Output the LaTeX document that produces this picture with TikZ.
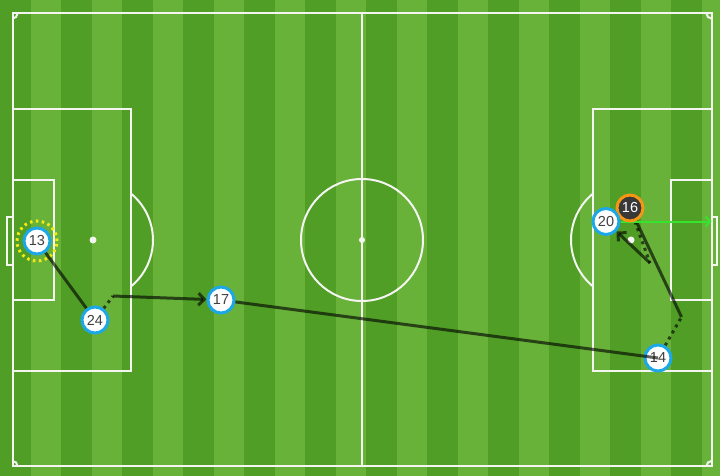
\documentclass[tikz,border=0pt]{standalone}
\usepackage{fontspec}
\setmainfont{Liberation Sans}
\usetikzlibrary{arrows.meta}
\definecolor{dkgreen}{RGB}{80,158,38}
\definecolor{ltgreen}{RGB}{104,178,58}
\definecolor{ringblue}{RGB}{28,168,230}
\definecolor{ringorange}{RGB}{245,150,20}
\definecolor{shotgreen}{RGB}{55,228,45}
\definecolor{ballyellow}{RGB}{245,235,20}
\definecolor{chalk}{RGB}{244,244,240}
\pgfdeclarelayer{pitchlayer}
\pgfdeclarelayer{lineslayer}
\pgfsetlayers{pitchlayer,lineslayer,main}
\tikzset{
  marking/.style={draw=chalk, line width=2pt},
  spot/.style={fill=chalk},
  player/.style={circle, draw=ringblue, fill=white, line width=3pt, minimum size=26pt,
    inner sep=0pt, text=black!75, font=\fontsize{14.5}{14.5}\selectfont},
  scorer/.style={player, draw=ringorange, fill=black!78, text=white},
  pass/.style={line width=3pt, draw=black, draw opacity=0.62},
  carry/.style={pass, dash pattern=on 3pt off 4pt},
  tip/.style={-{Straight Barb[length=6pt,width=12pt]}},
  shot/.style={line width=2pt, draw=shotgreen, -{Straight Barb[length=4.5pt,width=10pt]}},
  ballring/.style={circle, draw=ballyellow, line width=3pt, dash pattern=on 2.5pt off 3.5pt,
    minimum size=40pt, inner sep=0pt},
}
\begin{document}
\begin{tikzpicture}[x=1pt,y=-1pt]
\useasboundingbox (0,0) rectangle (720,476);
\begin{pgfonlayer}{pitchlayer}
  \fill[ltgreen] (0,0) rectangle (720,476);
  \foreach \k in {0,...,11}
    \fill[dkgreen] ({61*\k},0) rectangle ({61*\k+30.5},476);
  % outer lines
  \draw[marking] (12.5,13.5) rectangle (711.5,466);
  \draw[marking] (362,13.5) -- (362,466);
  \draw[marking] (362,240) circle[radius=61];
  \fill[spot] (362,240) circle[radius=3];
  % left end
  \draw[marking] (12.5,109) rectangle (130.5,371);
  \draw[marking] (12.5,180) rectangle (53.5,300);
  \draw[marking] (12.5,216.5) rectangle (7,265);
  \fill[spot] (93,240) circle[radius=3.5];
  \draw[marking] (130.5,193.2) arc[start angle=-51.3, end angle=51.3, radius=60];
  % right end
  \draw[marking] (592.5,109) rectangle (711.5,371);
  \draw[marking] (671,180) rectangle (711.5,300);
  \draw[marking] (711.5,216.5) rectangle (717,265);
  \fill[spot] (631,240) circle[radius=3.5];
  \draw[marking] (593.5,286.8) arc[start angle=128.7, end angle=231.3, radius=60];
  % corner arcs
  \draw[marking] (17.5,13.5) .. controls (17.5,16.26) and (15.26,18.5) .. (12.5,18.5);
  \draw[marking] (12.5,461) .. controls (15.26,461) and (17.5,463.24) .. (17.5,466);
  \draw[marking] (706.5,13.5) .. controls (706.5,16.26) and (708.74,18.5) .. (711.5,18.5);
  \draw[marking] (706.5,466) .. controls (706.5,463.24) and (708.74,461) .. (711.5,461);
\end{pgfonlayer}

% players
\node[player] (p13) at (37,241) {13};
\node[player] (p24) at (95,320) {24};
\node[player] (p17) at (221,300) {17};
\node[scorer] (p16) at (630,208) {16};
\node[player] (p20) at (606,221.5) {20};
\node[player] (p14) at (658,358) {14};

% free ends
\coordinate (c24) at (113,296);
\coordinate (c14) at (681.5,317);
\coordinate (c16) at (650,263);
\coordinate (goal) at (711.5,221.5);

\begin{pgfonlayer}{lineslayer}
  \node[ballring] (ball13) at (p13) {};
  \draw[pass] (p13) -- (p24);
  \draw[carry] (p24) -- (c24);
  \draw[pass, tip] (c24) -- (p17);
  \draw[carry] (p14) -- (c14);
  \draw[pass] (c14) -- (p16);
  \draw[carry] (p16) -- (c16);
  \draw[pass, tip] (c16) -- (p20);
  \draw[shot] (p20.east) -- (goal);
\end{pgfonlayer}
\draw[pass] (p17) -- (p14.center);
\end{tikzpicture}
\end{document}
